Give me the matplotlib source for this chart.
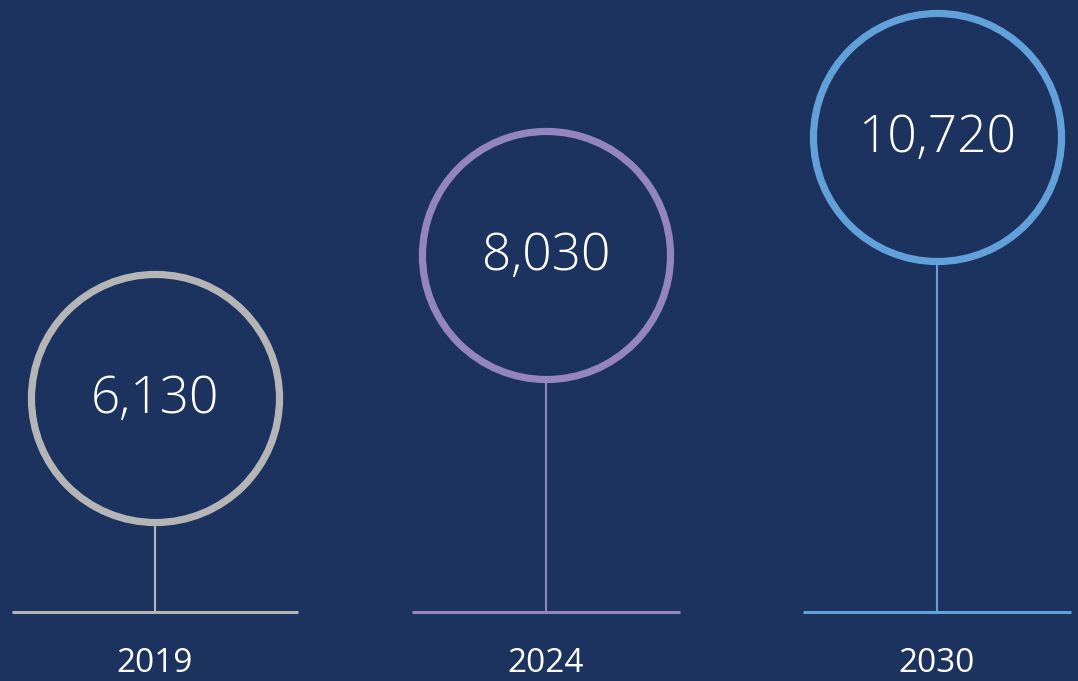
import matplotlib.pyplot as plt
import numpy as np

years = ["2019", "2024", "2030"]
values = [6130, 8030, 10720]
# circle heights above the baseline (px)
heights = [214, 357, 475]
colors = ["#b5b5b5", "#9484c0", "#62a0da"]

bg = "#1c335f"

fig = plt.figure(figsize=(10.78, 6.81), dpi=100, facecolor=bg)
ax = fig.add_axes([0, 0, 1, 1])
ax.set_facecolor(bg)

x = np.arange(len(years))
half = [0.366, 0.343, 0.343]

for i in range(len(years)):
    ax.plot([x[i] - half[i], x[i] + half[i]], [0, 0], color=colors[i], lw=2.2,
            solid_capstyle="butt", zorder=1)
    ax.plot([x[i], x[i]], [0, heights[i]], color=colors[i], lw=1.5, zorder=1)
    ax.scatter(x[i], heights[i], s=31900, facecolor=bg, edgecolor=colors[i],
               linewidth=5.2, zorder=2)
    ax.text(x[i], heights[i] - 1, f"{values[i]:,}", ha="center", va="center",
            color="white", fontsize=37, family="Open Sans", weight="light",
            zorder=3)
    ax.text(x[i], -52, years[i], ha="center", va="center", color="white",
            fontsize=24, family="Open Sans")

ax.set_xlim(-0.396, 2.361)
ax.set_ylim(-69, 612)
ax.axis("off")

fig.savefig("out.png", dpi=100, facecolor=bg)
